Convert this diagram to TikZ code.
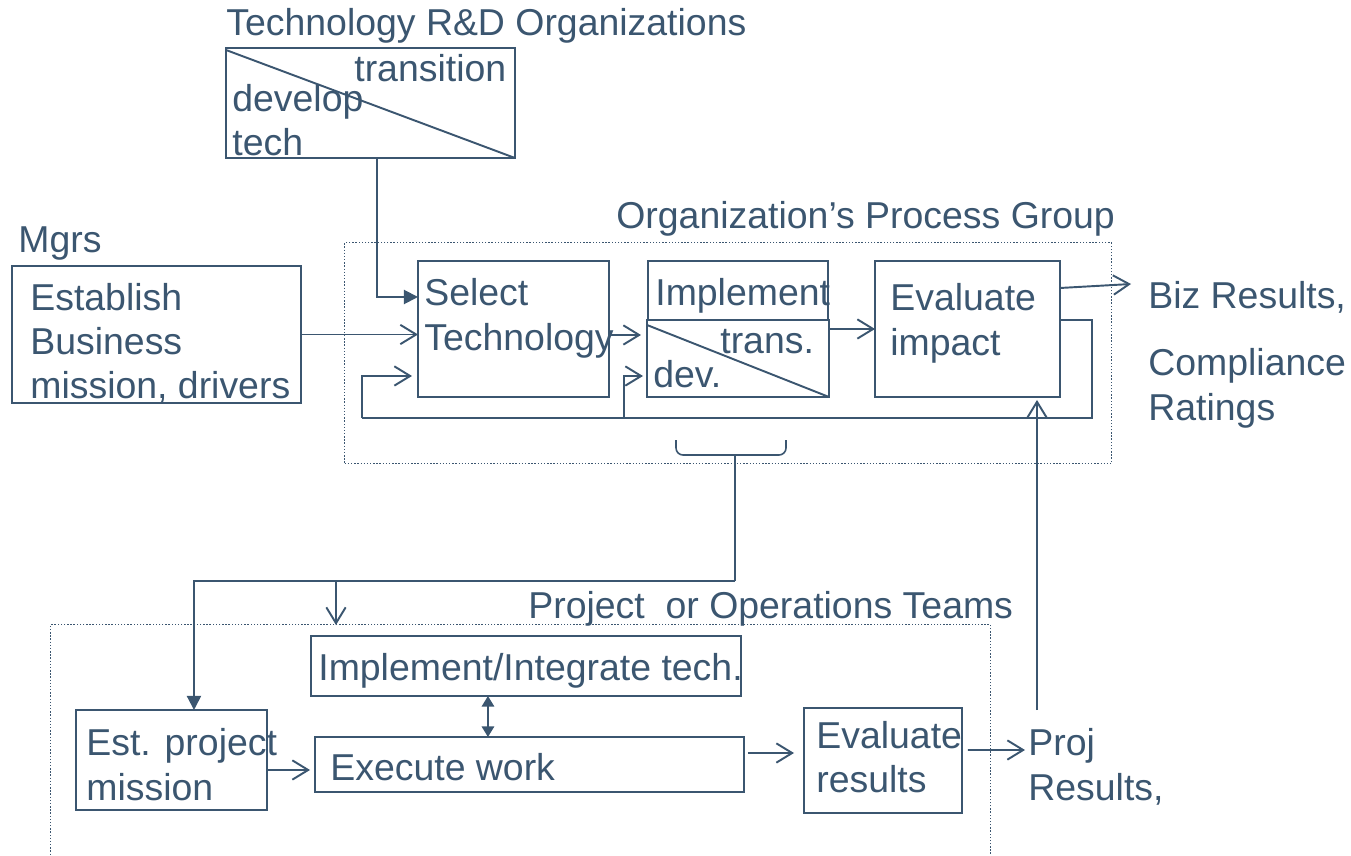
\documentclass[tikz,border=0pt]{standalone}
\usepackage{fontspec}
\setmainfont{Liberation Sans}
\usetikzlibrary{arrows.meta}
\definecolor{slate}{HTML}{3B5670}
\newcommand{\bigfs}{\fontsize{21.3}{25}\selectfont}

\tikzset{
  box/.style={draw=slate, line width=1.1pt, inner sep=0pt, outer sep=0pt, anchor=north west},
  grp/.style={draw=slate, densely dotted, line width=0.8pt, inner sep=0pt, anchor=north west},
  lbl/.style={anchor=base west, inner sep=0pt, text=slate, font=\bigfs},
  wire/.style={draw=slate, line width=1.1pt},
  barb/.style={wire, -{Straight Barb[length=9pt,width=11pt]}},
  solidtip/.style={wire, -{Triangle[length=8pt,width=8pt]}},
  twoway/.style={wire, {Triangle[length=6pt,width=7pt]}-{Triangle[length=6pt,width=7pt]}},
}

\begin{document}
\begin{tikzpicture}[x=0.02cm, y=-0.02cm]
  \useasboundingbox (0,0) rectangle (1351,855);

  % groups
  \node[grp, minimum width=15.34cm, minimum height=4.42cm] (opg) at (344,242) {};
  \node[grp, minimum width=18.8cm, minimum height=4.7cm] (pot) at (50,624) {};
  \node[lbl] (opgt) at (616,228) {Organization’s Process Group};
  \node[lbl] (pott) at (528,618) {Project\ \ or Operations Teams};

  % R&D
  \node[lbl] (rdt) at (226,36) {Technology R\&D Organizations};
  \node[box, minimum width=5.78cm, minimum height=2.2cm] (rd) at (226,48) {};
  \draw[wire] ([yshift=-0.04cm]rd.north west) -- (rd.south east);
  \node[lbl] (rdtr) at (354,82) {transition};
  \node[lbl] (rddv) at (232,112) {develop};
  \node[lbl] (rdtc) at (232,155) {tech};

  % managers
  \node[lbl] (mg) at (18,252) {Mgrs};
  \node[box, minimum width=5.78cm, minimum height=2.74cm] (mgr) at (12,266) {};
  \node[lbl] (mgr1) at (30,310) {Establish};
  \node[lbl] (mgr2) at (30,354) {Business};
  \node[lbl] (mgr3) at (30,398) {mission, drivers};

  % process group
  \node[box, minimum width=3.82cm, minimum height=2.72cm] (sel) at (418,261) {};
  \node[lbl] (sel1) at (424,305) {Select};
  \node[lbl] (sel2) at (424,350) {Technology};
  \node[box, minimum width=3.6cm, minimum height=1.18cm] (impl) at (648,261) {};
  \node[lbl] (implt) at (655,305) {Implement};
  \node[box, minimum width=3.64cm, minimum height=1.54cm] (dt) at (647,320) {};
  \draw[wire] ([yshift=-0.1cm]dt.north west) -- (dt.south east);
  \node[lbl] (dttr) at (720,353) {trans.};
  \node[lbl] (dtdv) at (653,387) {dev.};
  \node[box, minimum width=3.7cm, minimum height=2.72cm] (evi) at (875,261) {};
  \node[lbl] (evi1) at (890,310) {Evaluate};
  \node[lbl] (evi2) at (890,355) {impact};
  \node[lbl] (biz) at (1148,308) {Biz Results,};
  \node[lbl] (cmp1) at (1148,375) {Compliance};
  \node[lbl] (cmp2) at (1148,420) {Ratings};

  % project teams
  \node[box, minimum width=8.6cm, minimum height=1.2cm] (integ) at (311,636) {};
  \node[lbl] (integt) at (318,680) {Implement/Integrate tech.};
  \node[box, minimum width=8.58cm, minimum height=1.1cm] (exec) at (315,737) {};
  \node[lbl] (exect) at (330,780) {Execute work};
  \node[box, minimum width=3.82cm, minimum height=2.0cm] (est) at (76,710) {};
  \node[lbl] (est1) at (86,755) {Est. project};
  \node[lbl] (est2) at (86,800) {mission};
  \node[box, minimum width=3.16cm, minimum height=2.1cm] (evr) at (804,708) {};
  \node[lbl] (evr1) at (816,748) {Evaluate};
  \node[lbl] (evr2) at (816,792) {results};
  \node[lbl] (pj1) at (1028,755) {Proj};
  \node[lbl] (pj2) at (1028,800) {Results,};

  \coordinate (bizin) at (1131,284);
  \coordinate (fbr) at (1092,418);
  \coordinate (fbl) at (362,418);
  \coordinate (fbd) at (624,418);
  \coordinate (brc) at (735,455);
  \coordinate (jn) at (735,581);
  \coordinate (pjin) at (1025,750);
  \coordinate (pjup) at (1037,710);

  % upper flow
  \draw[solidtip] ([xshift=0.13cm]rd.south) |- ([yshift=0.64cm]sel.west);
  \draw[barb] (mgr.east) -- (mgr.east -| sel.west);
  \draw[barb, shorten >=0.12cm] ([yshift=-0.12cm]sel.east) -- ([yshift=-0.12cm]sel.east -| dt.west);
  \draw[barb] (evi.west -| dt.east) -- (evi.west);
  \draw[barb] ([yshift=0.82cm]evi.east) -- (bizin);
  \draw[wire] ([yshift=0.18cm]evi.east) -| (fbr) -- (fbl);
  \draw[barb, shorten >=0.12cm] (fbl) |- ([yshift=-0.94cm]sel.west);
  \draw[barb, shorten >=0.08cm] (fbd) |- ([yshift=-0.35cm]dt.west);
  \draw[wire, line width=0.9pt, rounded corners=0.14cm] (676,440) -- (676,455) -- (786,455) -- (786,440);

  % down to the teams
  \draw[wire] (brc) -- (jn);
  \draw[solidtip] (jn) -| ([xshift=0.45cm]est.north);
  \draw[barb, shorten >=0.22cm] ([xshift=-3.8cm]integ.north |- jn) -- ([xshift=-3.8cm]integ.north);
  \draw[twoway] ([xshift=-0.76cm]integ.south) -- ([xshift=-0.76cm]integ.south |- exec.north);
  \draw[barb, shorten >=0.1cm] ([yshift=-0.2cm]est.east) -- ([yshift=-0.2cm]est.east -| exec.west);
  \draw[barb, shorten <=0.08cm, shorten >=0.2cm] ([yshift=0.23cm]exec.east) -- ([yshift=0.23cm]exec.east -| evr.west);
  \draw[barb, shorten <=0.12cm] ([yshift=0.21cm]evr.east) -- (pjin);
  \draw[barb, shorten >=0.06cm] (pjup) -- (pjup |- evi.south);
\end{tikzpicture}
\end{document}
